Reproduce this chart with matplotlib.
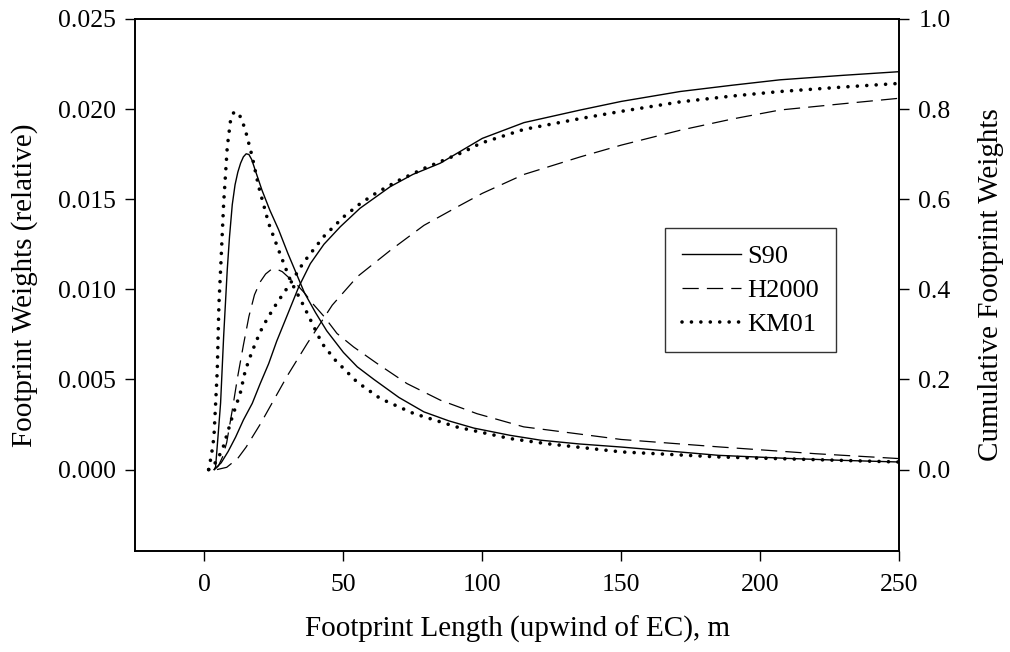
import matplotlib
matplotlib.use("Agg")
import matplotlib.pyplot as plt
from matplotlib.lines import Line2D

# ---- data ----
# footprint weights (left axis)
s90_x = [3.5, 4, 5, 5.8, 6.9, 8.2, 9, 10, 11, 12, 13, 14, 15, 16, 17, 18.5, 20.7, 23.5, 26.7, 30, 33, 36, 40, 44, 50, 55, 61, 70, 79, 88, 97, 110, 121, 135, 150, 170, 185, 210, 230, 250]
s90_y = [0.0, 0.00015, 0.0021, 0.0037, 0.0074, 0.0111, 0.0129, 0.0147, 0.0158, 0.0165, 0.0170, 0.01735, 0.01752, 0.01748, 0.0172, 0.0165, 0.0155, 0.0144, 0.0133, 0.0120, 0.0109, 0.0098, 0.0087, 0.0077, 0.0065, 0.0057, 0.0050, 0.0040, 0.0032, 0.0027, 0.0023, 0.0019, 0.00163, 0.00142, 0.00125, 0.00099, 0.00079, 0.00062, 0.00051, 0.00042]

h2000_x = [3.5, 5, 6.5, 8, 10, 12, 14, 16, 18, 20, 22, 24, 26, 28, 30, 33, 36, 39, 43, 47.7, 53.7, 62, 72.9, 84.9, 98.1, 114.9, 124.5, 150, 185, 220, 250]
h2000_y = [0.0, 0.0002, 0.0007, 0.0015, 0.0033, 0.0052, 0.0069, 0.0085, 0.0097, 0.0104, 0.01085, 0.0111, 0.01112, 0.01098, 0.0107, 0.0103, 0.0098, 0.0092, 0.0085, 0.00755, 0.0068, 0.0059, 0.00477, 0.00385, 0.0031, 0.00237, 0.00218, 0.00167, 0.00126, 0.00088, 0.00061]

km01_x = [1.5, 2.5, 3.4, 4.6, 5.2, 5.8, 6.9, 8.2, 9.4, 10.5, 11.8, 13.2, 14.7, 17.2, 19.5, 23.1, 26.7, 30.9, 35, 42.3, 47.1, 54.9, 63.3, 75.3, 90.9, 110, 123, 150, 185, 220, 250]
km01_y = [0.0, 0.0008, 0.0018, 0.0055, 0.0092, 0.0111, 0.01477, 0.0179, 0.0194, 0.0198, 0.01985, 0.0195, 0.01884, 0.01735, 0.0157, 0.01366, 0.01217, 0.0105, 0.0093, 0.0070, 0.00607, 0.00486, 0.00394, 0.00311, 0.00236, 0.00172, 0.00144, 0.00098, 0.0007, 0.00055, 0.00042]

# cumulative footprint weights (right axis)
s90c_x = [3.5, 6, 8.5, 11.2, 14, 17.2, 20, 23.1, 26, 29.1, 33.9, 38.1, 43, 48.9, 56, 66.9, 75, 84.9, 100, 115, 135.3, 150, 171.2, 190, 207.2, 230, 250]
s90c_y = [0.0, 0.015, 0.04, 0.072, 0.11, 0.147, 0.19, 0.235, 0.285, 0.332, 0.405, 0.457, 0.50, 0.539, 0.58, 0.628, 0.655, 0.680, 0.735, 0.77, 0.798, 0.817, 0.839, 0.853, 0.865, 0.875, 0.883]

h2000c_x = [4.5, 8, 12, 15, 20, 25, 30, 37, 46, 55, 67, 79, 91, 100, 115, 135.3, 150, 171.2, 190, 207.2, 230, 250]
h2000c_y = [0.0, 0.005, 0.025, 0.05, 0.1, 0.155, 0.21, 0.28, 0.365, 0.428, 0.487, 0.542, 0.583, 0.613, 0.655, 0.694, 0.72, 0.753, 0.778, 0.798, 0.812, 0.824]

km01c_x = [1.5, 3.4, 6.4, 8.2, 10, 12.9, 14.7, 17, 20, 22.6, 26.1, 30.9, 35.7, 42.9, 50.1, 56, 62.1, 70, 78.9, 93.3, 99.3, 115, 135.3, 150, 171.2, 190, 207.2, 230, 250]
km01c_y = [0.0, 0.01, 0.043, 0.08, 0.117, 0.17, 0.22, 0.26, 0.305, 0.335, 0.37, 0.413, 0.46, 0.517, 0.561, 0.59, 0.615, 0.642, 0.668, 0.705, 0.724, 0.755, 0.779, 0.795, 0.816, 0.829, 0.839, 0.849, 0.857]

series_names = ["S90", "H2000", "KM01"]
x_ticks = [0, 50, 100, 150, 200, 250]
left_ticks = [0.000, 0.005, 0.010, 0.015, 0.020, 0.025]
right_ticks = [0.0, 0.2, 0.4, 0.6, 0.8, 1.0]

plt.rcParams['font.family'] = ['Liberation Serif', 'DejaVu Serif']

fig = plt.figure(figsize=(10.10, 6.52), dpi=100)
ax = fig.add_axes([0.1337, 0.1554, 0.7564, 0.8155])
ax2 = ax.twinx()

solid = dict(color='black', lw=1.0, linestyle='-')
dashed = dict(color='black', lw=0.9, linestyle=(0, (13, 6.5)))
dotted = dict(color='black', lw=2.6, linestyle=(0, (0.01, 2.6)), dash_capstyle='round')

ax.plot(s90_x, s90_y, **solid)
ax.plot(h2000_x, h2000_y, **dashed)
ax.plot(km01_x, km01_y, **dotted)
ax2.plot(s90c_x, s90c_y, **solid)
ax2.plot(h2000c_x, h2000c_y, **dashed)
ax2.plot(km01c_x, km01c_y, **dotted)

ax.set_xlim(-25, 250)
ax.set_ylim(-0.0045, 0.025)
ax2.set_ylim(-0.18, 1.0)
ax.set_xticks(x_ticks)
ax.set_yticks(left_ticks)
ax.set_yticklabels([f"{v:.3f}" for v in left_ticks])
ax2.set_yticks(right_ticks)
ax2.set_yticklabels([f"{v:.1f}" for v in right_ticks])

for a in (ax, ax2):
    a.tick_params(direction='out', length=7, width=1.0, labelsize=18.5, pad=7, colors='black')
    for sp in a.spines.values():
        sp.set_linewidth(1.2)
ax.tick_params(axis='x', pad=10)

ax.set_xlabel("Footprint Length (upwind of EC), m", fontsize=21, labelpad=14)
ax.set_ylabel("Footprint Weights (relative)", fontsize=21, labelpad=14)
ax2.set_ylabel("Cumulative Footprint Weights", fontsize=21, labelpad=20)

handles = [Line2D([], [], **solid), Line2D([], [], **dashed), Line2D([], [], **dotted)]
leg = ax.legend(handles, series_names, loc='upper left', bbox_to_anchor=(0.694, 0.607),
                fontsize=19, frameon=True, fancybox=False, edgecolor='black',
                handlelength=2.25, handletextpad=0.25, borderpad=0.62,
                labelspacing=0.4, borderaxespad=0)
leg.get_frame().set_linewidth(1.0)

fig.savefig("out.png", dpi=100)
